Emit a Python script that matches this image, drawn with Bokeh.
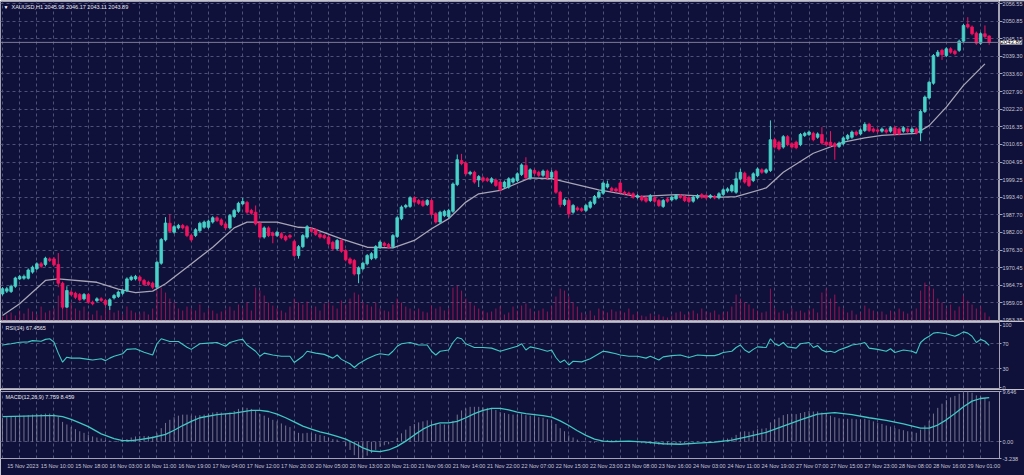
from bokeh.plotting import figure
from bokeh.models import Range1d, FixedTicker, Label, Span, NumeralTickFormatter
from bokeh.layouts import column, row
from bokeh.embed import file_html
from bokeh.resources import INLINE

# ---------------- XAUUSD H1 candles ----------------
opens = [
    1962.0, 1962.9, 1962.8, 1964.5, 1966.9, 1967.1, 1967.1, 1969.1, 1970.2, 1971.8,
    1971.6, 1973.4, 1973.4, 1971.6, 1965.5, 1957.7, 1962.6, 1962.2, 1961.8, 1960.4,
    1961.8, 1959.3, 1959.8, 1960.4, 1959.9, 1958.2, 1960.7, 1961.2, 1962.2, 1963.1,
    1966.7, 1966.9, 1967.5, 1966.4, 1965.8, 1965.5, 1964.2, 1972.0, 1979.6, 1985.0,
    1982.1, 1983.5, 1984.3, 1983.9, 1981.0, 1981.0, 1982.6, 1983.7, 1983.7, 1985.4,
    1986.8, 1986.1, 1984.8, 1983.5, 1987.2, 1988.9, 1991.3, 1991.8, 1989.2, 1988.6,
    1985.0, 1980.5, 1983.5, 1981.8, 1981.0, 1981.6, 1980.7, 1981.0, 1979.1, 1974.5,
    1977.4, 1980.5, 1983.2, 1982.9, 1981.4, 1981.0, 1980.5, 1978.8, 1976.7, 1979.4,
    1976.1, 1973.4, 1972.9, 1968.5, 1970.2, 1971.8, 1973.5, 1973.7, 1977.2, 1978.5,
    1978.1, 1977.4, 1980.7, 1986.5, 1990.3, 1990.5, 1993.3, 1992.4, 1992.2, 1991.1,
    1992.4, 1988.1, 1985.4, 1987.5, 1987.2, 1988.9, 1997.6, 2005.4, 2004.6, 2001.1,
    2001.6, 1999.1, 1999.8, 1999.5, 1998.4, 1999.1, 1998.4, 1996.8, 1996.8, 1998.4,
    1998.9, 2000.9, 2003.8, 1999.8, 2002.2, 2001.6, 2000.6, 2002.0, 2000.0, 2001.9,
    1995.1, 1991.1, 1992.4, 1988.6, 1990.0, 1989.7, 1989.2, 1990.2, 1991.5, 1993.5,
    1994.8, 1996.8, 1996.4, 1996.2, 1998.1, 1995.1, 1994.8, 1994.6, 1993.5, 1993.7,
    1993.3, 1992.4, 1993.3, 1992.4, 1990.5, 1992.9, 1992.6, 1993.0, 1994.0, 1993.7,
    1993.3, 1992.2, 1993.3, 1994.3, 1994.0, 1993.5, 1993.7, 1993.3, 1994.4, 1995.5,
    1995.5, 1995.1, 1999.5, 2001.3, 2000.0, 1998.9, 2000.5, 2002.4, 2001.6, 2002.2,
    2012.2, 2011.4, 2009.8, 2013.2, 2010.9, 2011.4, 2010.6, 2013.6, 2013.9, 2014.3,
    2013.0, 2013.9, 2011.4, 2011.4, 2010.9, 2010.0, 2010.9, 2012.5, 2013.0, 2014.7,
    2014.1, 2015.2, 2017.2, 2015.7, 2015.4, 2015.0, 2015.4, 2015.0, 2016.1, 2015.7,
    2015.0, 2015.7, 2014.7, 2015.7, 2014.4, 2021.4, 2025.8, 2030.6, 2039.6, 2041.3,
    2039.6, 2041.8, 2041.0, 2041.3, 2044.3, 2049.7, 2048.9, 2046.9, 2043.6, 2046.7, 2045.98,
]
highs = [
    1964.2, 1964.3, 1965.0, 1967.6, 1968.2, 1968.3, 1970.3, 1971.2, 1972.3, 1972.4,
    1974.1, 1973.9, 1974.0, 1975.3, 1966.0, 1964.5, 1963.2, 1962.7, 1962.3, 1962.3,
    1962.3, 1959.8, 1960.9, 1960.9, 1960.4, 1960.6, 1962.0, 1963.1, 1963.6, 1967.4,
    1968.0, 1968.2, 1968.0, 1966.9, 1966.3, 1966.0, 1972.8, 1980.2, 1987.0, 1987.9,
    1984.4, 1984.8, 1984.8, 1984.4, 1981.5, 1983.4, 1985.5, 1985.9, 1986.2, 1987.3,
    1987.3, 1986.6, 1985.3, 1988.0, 1989.7, 1992.0, 1993.3, 1992.3, 1989.7, 1990.8,
    1985.5, 1984.0, 1984.0, 1982.3, 1982.6, 1982.1, 1981.2, 1981.5, 1979.6, 1977.9,
    1981.5, 1984.4, 1983.7, 1983.4, 1981.9, 1981.5, 1981.0, 1979.3, 1979.9, 1979.9,
    1976.6, 1973.9, 1973.4, 1971.0, 1972.5, 1975.0, 1975.6, 1977.9, 1979.4, 1979.0,
    1978.6, 1981.5, 1987.3, 1990.8, 1991.3, 1993.8, 1993.8, 1992.9, 1992.7, 1992.9,
    1992.9, 1988.6, 1989.1, 1989.4, 1989.7, 1998.3, 2007.4, 2007.6, 2005.1, 2002.1,
    2002.1, 2000.7, 2000.3, 2000.0, 2000.0, 1999.6, 1998.9, 1998.9, 2000.0, 2000.0,
    2001.6, 2004.5, 2006.5, 2002.9, 2002.7, 2002.1, 2002.5, 2002.5, 2002.3, 2002.4,
    1995.6, 1993.1, 1992.9, 1991.3, 1990.5, 1990.2, 1991.3, 1992.4, 1994.2, 1995.6,
    1998.6, 1998.9, 1996.9, 1996.7, 1998.6, 1995.6, 1995.3, 1995.1, 1994.5, 1994.2,
    1993.8, 1994.5, 1993.8, 1992.9, 1992.9, 1993.4, 1994.0, 1994.5, 1994.5, 1994.2,
    1993.8, 1994.0, 1994.5, 1994.8, 1994.5, 1994.5, 1994.2, 1995.1, 1996.4, 1996.7,
    1997.8, 2001.6, 2002.7, 2001.8, 2000.5, 2001.6, 2003.2, 2002.9, 2002.9, 2018.5,
    2012.7, 2011.9, 2013.7, 2013.7, 2011.4, 2011.9, 2014.4, 2014.8, 2015.2, 2014.8,
    2014.6, 2016.3, 2011.9, 2015.0, 2011.4, 2011.6, 2013.3, 2014.1, 2015.2, 2015.2,
    2015.9, 2017.9, 2017.7, 2016.2, 2015.9, 2016.2, 2015.9, 2016.6, 2016.6, 2016.2,
    2016.6, 2016.2, 2016.2, 2016.2, 2021.9, 2026.6, 2031.4, 2040.1, 2041.4, 2041.8,
    2042.3, 2042.3, 2041.5, 2044.8, 2049.9, 2052.1, 2049.4, 2047.4, 2047.2, 2049.4, 2046.17,
]
lows = [
    1961.5, 1962.3, 1962.3, 1964.0, 1966.5, 1966.6, 1966.7, 1968.6, 1969.8, 1970.5,
    1971.0, 1972.4, 1971.0, 1964.2, 1957.1, 1957.5, 1961.3, 1960.3, 1959.6, 1959.9,
    1958.8, 1958.3, 1959.3, 1959.4, 1958.0, 1956.8, 1960.2, 1960.7, 1961.7, 1962.6,
    1966.2, 1966.4, 1965.9, 1964.6, 1964.6, 1963.6, 1963.8, 1971.5, 1979.1, 1981.9,
    1981.6, 1983.0, 1983.0, 1980.5, 1979.1, 1980.5, 1982.1, 1983.2, 1983.2, 1984.9,
    1985.4, 1984.1, 1983.0, 1983.0, 1986.7, 1988.4, 1991.0, 1988.1, 1987.8, 1984.3,
    1980.0, 1980.0, 1980.5, 1978.5, 1980.5, 1979.8, 1979.1, 1980.0, 1974.0, 1973.5,
    1976.9, 1980.0, 1981.9, 1980.9, 1980.0, 1979.8, 1977.8, 1976.2, 1976.2, 1975.4,
    1972.6, 1971.5, 1968.0, 1965.5, 1969.7, 1971.3, 1973.0, 1973.2, 1976.7, 1977.3,
    1976.7, 1976.9, 1980.2, 1986.0, 1989.8, 1990.0, 1991.4, 1991.0, 1990.3, 1990.6,
    1987.4, 1984.9, 1984.9, 1987.0, 1986.7, 1988.4, 1997.1, 2003.9, 2000.6, 2000.6,
    1997.9, 1996.8, 1998.4, 1998.4, 1997.9, 1996.8, 1995.4, 1996.3, 1996.3, 1997.9,
    1998.4, 2000.4, 1999.3, 1999.3, 2000.8, 2000.1, 2000.1, 1999.3, 1999.5, 1994.6,
    1990.2, 1990.6, 1987.0, 1988.1, 1988.9, 1988.7, 1988.7, 1989.7, 1991.0, 1993.0,
    1994.3, 1996.3, 1995.2, 1995.0, 1994.6, 1994.1, 1993.9, 1993.0, 1993.0, 1992.1,
    1991.7, 1991.9, 1991.7, 1990.3, 1990.0, 1991.7, 1992.1, 1992.5, 1993.0, 1991.9,
    1991.6, 1991.7, 1992.8, 1993.0, 1992.8, 1993.0, 1992.8, 1992.8, 1993.9, 1995.0,
    1995.0, 1994.6, 1999.0, 1997.9, 1996.8, 1998.4, 2000.0, 2001.1, 2001.1, 2001.7,
    2009.3, 2008.7, 2009.3, 2010.1, 2009.3, 2009.1, 2010.1, 2013.1, 2013.4, 2011.7,
    2012.5, 2010.6, 2010.1, 2009.8, 2005.7, 2009.5, 2010.4, 2012.0, 2012.5, 2013.4,
    2013.6, 2014.7, 2014.7, 2014.5, 2014.5, 2014.5, 2014.2, 2014.5, 2013.6, 2013.6,
    2014.5, 2014.4, 2014.2, 2013.9, 2011.7, 2020.9, 2025.3, 2030.1, 2039.1, 2038.2,
    2039.1, 2040.2, 2039.7, 2040.8, 2043.8, 2048.4, 2046.2, 2043.1, 2043.1, 2045.3, 2043.11,
]
closes = [
    1963.7, 1963.7, 1964.5, 1967.2, 1967.7, 1967.7, 1969.8, 1970.7, 1971.8, 1971.0,
    1973.6, 1972.9, 1971.5, 1965.5, 1957.7, 1963.1, 1961.8, 1960.9, 1960.1, 1961.8,
    1959.3, 1958.8, 1960.4, 1959.9, 1958.6, 1960.1, 1961.5, 1962.6, 1963.1, 1966.9,
    1967.5, 1967.7, 1966.4, 1965.1, 1965.1, 1964.2, 1972.3, 1979.7, 1985.1, 1982.4,
    1983.9, 1984.3, 1983.5, 1981.0, 1979.6, 1982.9, 1985.0, 1985.4, 1985.7, 1986.8,
    1985.9, 1984.6, 1983.5, 1987.5, 1989.2, 1991.5, 1992.1, 1988.6, 1988.3, 1984.8,
    1980.5, 1983.5, 1981.0, 1981.0, 1982.1, 1980.3, 1979.6, 1980.5, 1974.5, 1977.4,
    1981.0, 1983.9, 1982.4, 1981.4, 1980.5, 1980.3, 1978.3, 1976.7, 1979.4, 1975.9,
    1973.1, 1972.0, 1968.5, 1970.5, 1972.0, 1974.5, 1975.1, 1977.4, 1978.9, 1977.8,
    1977.2, 1981.0, 1986.8, 1990.3, 1990.8, 1993.3, 1991.9, 1991.5, 1990.8, 1992.4,
    1987.9, 1985.4, 1988.6, 1988.9, 1989.2, 1997.8, 2005.7, 2004.4, 2001.1, 2001.6,
    1998.4, 2000.2, 1998.9, 1998.9, 1999.5, 1997.3, 1995.9, 1998.4, 1999.5, 1999.5,
    2001.1, 2004.0, 1999.8, 2002.4, 2001.3, 2000.6, 2002.0, 1999.8, 2001.6, 1995.1,
    1991.1, 1992.6, 1988.1, 1990.8, 1989.4, 1989.2, 1990.8, 1991.9, 1993.7, 1995.1,
    1998.1, 1997.8, 1995.7, 1995.5, 1995.1, 1994.6, 1994.4, 1993.5, 1994.0, 1992.6,
    1992.2, 1994.0, 1992.2, 1990.8, 1992.4, 1992.2, 1993.5, 1994.0, 1993.5, 1992.4,
    1992.1, 1993.5, 1994.0, 1993.5, 1993.3, 1994.0, 1993.3, 1994.6, 1995.9, 1996.2,
    1997.3, 1999.5, 2001.6, 1998.4, 1997.3, 2001.1, 2002.7, 2001.6, 2002.4, 2012.2,
    2009.8, 2009.2, 2013.2, 2010.6, 2009.8, 2009.6, 2013.9, 2014.3, 2014.7, 2012.2,
    2014.1, 2011.1, 2010.6, 2010.3, 2010.0, 2011.1, 2012.8, 2013.6, 2014.7, 2013.9,
    2015.4, 2017.2, 2015.2, 2015.0, 2015.0, 2015.7, 2014.7, 2016.1, 2014.1, 2014.1,
    2016.1, 2014.9, 2015.7, 2014.4, 2021.4, 2026.1, 2030.9, 2039.6, 2040.7, 2039.9,
    2041.8, 2040.7, 2040.2, 2044.3, 2049.4, 2048.9, 2046.7, 2043.6, 2046.7, 2045.8, 2043.89,
]
tick_volume = [
    1000, 1500, 2000, 1250, 2500, 1750, 3000, 2250, 1500, 3500,
    2000, 2500, 3000, 6250, 9250, 7500, 4500, 3000, 2500, 3500,
    2000, 1500, 2500, 1250, 3000, 3500, 2000, 2500, 1500, 3500,
    2500, 2000, 1750, 2250, 1500, 3000, 7500, 8250, 7000, 5500,
    4500, 3000, 2500, 3500, 3000, 2500, 4000, 2000, 3000, 2500,
    1750, 2250, 2750, 3500, 2500, 4000, 3000, 4500, 2500, 8250,
    7500, 6250, 4500, 3750, 3000, 2500, 2000, 3500, 5500, 4500,
    4000, 4750, 3000, 3500, 2500, 4250, 4500, 3750, 3000, 5000,
    4000, 5500, 7000, 6500, 4500, 4000, 3500, 4500, 3000, 2500,
    2250, 4000, 5500, 4500, 3500, 3000, 2500, 3000, 2250, 2000,
    3750, 3000, 3500, 2500, 3000, 8250, 8750, 7500, 5500, 4500,
    3750, 3000, 2500, 2000, 2250, 3000, 3500, 1500, 2000, 3500,
    2500, 3750, 4250, 3000, 2000, 2500, 3000, 2250, 3500, 6000,
    8000, 7500, 6000, 4500, 3500, 2000, 1500, 2500, 1250, 3000,
    2500, 2000, 2750, 2250, 2500, 2000, 3000, 1500, 2000, 1250,
    1000, 1750, 1250, 1500, 1000, 750, 1250, 2000, 2250, 1500,
    2000, 2500, 1750, 3000, 2250, 2000, 2500, 1500, 2000, 2250,
    3500, 6500, 5500, 4500, 4000, 3000, 2500, 2000, 2250, 8000,
    3000, 2000, 2500, 1750, 3000, 2250, 2500, 2000, 2750, 3000,
    2000, 7000, 8000, 5500, 6500, 3500, 3000, 2000, 2500, 1500,
    2000, 3750, 3000, 2500, 2000, 2250, 1500, 2500, 2000, 3000,
    2250, 1750, 2500, 3000, 7500, 9500, 8750, 8000, 5500, 4500,
    3000, 4000, 2500, 3500, 6250, 5000, 4000, 3000, 3500, 2000, 1000,
]

# moving average (read at selected bars)
ma_bar = [0, 4, 10, 13, 22, 27, 31, 35, 38, 43, 49, 54, 57, 64, 69, 72, 79, 85, 91, 96,
          100, 104, 108, 111, 116, 123, 128, 139, 148, 157, 168, 171, 178, 182, 189, 196,
          201, 205, 213, 216, 220, 224, 229]
ma_val = [1955.0, 1958.8, 1966.4, 1966.9, 1965.8, 1963.6, 1962.4, 1962.9, 1965.3, 1970.7,
          1977.2, 1983.5, 1985.4, 1985.4, 1983.7, 1983.5, 1979.9, 1977.2, 1977.0, 1979.4,
          1983.2, 1986.5, 1991.9, 1994.6, 1995.7, 1999.8, 1999.5, 1995.9, 1993.7, 1994.3,
          1993.5, 1993.7, 1996.5, 2001.6, 2007.8, 2011.4, 2012.8, 2013.6, 2014.3, 2016.8,
          2022.8, 2029.9, 2036.9]

# RSI(14)
rsi_bar = [
    0, 2, 4, 6, 7, 9, 10, 11, 12, 13,
    14, 15, 16, 18, 20, 21, 23, 24, 25, 26,
    28, 29, 31, 33, 35, 36, 37, 39, 41, 43,
    44, 46, 48, 50, 52, 53, 55, 56, 57, 59,
    60, 61, 63, 65, 67, 68, 70, 71, 73, 75,
    77, 78, 79, 81, 82, 83, 85, 87, 88, 90,
    91, 92, 93, 95, 97, 99, 100, 101, 102, 104,
    105, 106, 107, 108, 110, 112, 114, 116, 118, 120,
    121, 122, 123, 125, 127, 128, 129, 130, 131, 132,
    133, 135, 137, 138, 140, 141, 143, 144, 146, 148,
    150, 151, 153, 154, 156, 158, 160, 162, 164, 166,
    167, 168, 170, 171, 172, 173, 174, 175, 176, 178,
    179, 180, 181, 182, 183, 185, 186, 188, 189, 190,
    191, 192, 193, 194, 195, 197, 198, 200, 201, 202,
    204, 206, 207, 208, 210, 212, 213, 214, 215, 216,
    217, 218, 220, 221, 222, 223, 224, 225, 226, 227,
    228, 229, 230]
rsi_val = [
    68, 70, 72.5, 73, 75, 74, 77, 78, 72.5, 55,
    40.5, 48.5, 47, 47, 45, 44, 46, 43, 47, 50,
    54, 61, 62, 56.5, 52, 70, 78, 73.6, 73.6, 64.5,
    61, 70, 71, 72, 66, 72, 76, 77, 68, 58,
    50, 55, 52, 50, 50, 40, 50, 58, 55, 53,
    47, 52, 45, 38, 32, 38, 46, 52, 54, 52,
    58, 66, 70, 72, 68, 68, 58, 52, 58, 60,
    72, 80, 78, 70, 64, 64, 63, 58, 62, 66,
    70, 60, 65, 62, 58, 60, 48, 40, 44, 36,
    42, 41, 46, 50, 58, 57, 54, 52, 50, 50,
    47, 50, 44, 49, 51, 52, 48, 52, 51, 51,
    53, 56, 58, 64, 68, 60, 56, 61, 65, 64,
    78, 70, 67, 72, 65, 63, 70, 72, 64, 67,
    60, 57, 58, 56, 60, 65, 68, 70, 72, 63,
    61, 58, 62, 56, 60, 58, 55, 72, 78, 82,
    87, 88, 86, 84, 82, 85, 89, 87, 82, 72,
    77, 74, 67.4565]

# MACD(12,26,9): main per bar, signal at selected bars
macd_main = [
    4.6, 4.7, 4.8, 4.9, 5.0, 5.0, 5.1, 5.2, 5.3, 5.3,
    5.4, 5.4, 5.3, 4.8, 3.8, 3.3, 2.8, 2.4, 2.0, 1.7,
    1.3, 1.0, 0.8, 0.6, 0.3, 0.2, 0.1, 0.1, 0.2, 0.5,
    0.8, 1.0, 1.1, 1.1, 1.1, 1.0, 1.6, 2.6, 3.6, 4.2,
    4.7, 5.0, 5.2, 5.2, 5.0, 5.0, 5.1, 5.2, 5.4, 5.6,
    5.7, 5.6, 5.4, 5.6, 5.9, 6.3, 6.6, 6.5, 6.3, 5.9,
    5.3, 5.0, 4.6, 4.2, 3.9, 3.5, 3.1, 2.8, 2.1, 1.7,
    1.6, 1.7, 1.6, 1.5, 1.3, 1.1, 0.8, 0.5, 0.4, 0.0,
    -0.8, -1.6, -2.6, -3.238, -3.1, -2.7, -2.2, -1.6, -1.0, -0.7,
    -0.5, -0.1, 0.7, 1.6, 2.3, 3.0, 3.4, 3.7, 3.9, 4.1,
    3.9, 3.5, 3.4, 3.3, 3.3, 4.0, 5.2, 6.0, 6.4, 6.7,
    6.7, 6.7, 6.6, 6.5, 6.4, 6.1, 5.7, 5.5, 5.3, 5.2,
    5.2, 5.4, 5.1, 5.0, 4.9, 4.7, 4.6, 4.3, 4.1, 3.4,
    2.6, 2.0, 1.2, 0.8, 0.4, 0.1, -0.1, -0.2, -0.2, -0.1,
    0.2, 0.3, 0.3, 0.3, 0.2, 0.1, 0.0, -0.1, -0.2, -0.3,
    -0.4, -0.4, -0.5, -0.6, -0.6, -0.6, -0.5, -0.4, -0.3, -0.3,
    -0.3, -0.2, -0.1, 0.0, 0.0, 0.1, 0.1, 0.2, 0.4, 0.6,
    0.8, 1.3, 1.8, 2.0, 1.9, 2.1, 2.4, 2.5, 2.6, 3.7,
    4.3, 4.6, 5.1, 5.3, 5.3, 5.3, 5.5, 5.7, 5.9, 5.8,
    5.8, 5.6, 5.3, 5.0, 4.7, 4.5, 4.4, 4.4, 4.4, 4.3,
    4.3, 4.4, 4.2, 3.9, 3.6, 3.4, 3.1, 2.9, 2.6, 2.4,
    2.2, 2.0, 1.9, 1.7, 2.3, 3.1, 4.0, 5.4, 6.5, 7.3,
    8.0, 8.5, 8.8, 9.2, 9.5, 9.646, 9.4, 8.9, 8.7, 8.4, 7.759]
signal_bar = [
    0, 5, 10, 12, 14, 16, 18, 20, 23, 26,
    28, 30, 32, 35, 38, 40, 42, 44, 46, 50,
    54, 58, 60, 62, 64, 66, 68, 70, 72, 74,
    76, 78, 80, 82, 84, 86, 88, 90, 92, 94,
    96, 98, 100, 102, 104, 106, 108, 110, 112, 114,
    116, 118, 120, 122, 124, 126, 128, 130, 132, 134,
    136, 138, 140, 142, 146, 150, 154, 158, 162, 166,
    170, 174, 178, 182, 186, 190, 194, 198, 202, 206,
    210, 214, 216, 218, 220, 222, 224, 226, 228, 230]
signal_val = [
    4.8, 4.9, 5.0, 5.0, 4.8, 4.3, 3.6, 2.9, 1.5, 0.6,
    0.2, 0.2, 0.4, 0.8, 1.4, 2.2, 3.1, 3.9, 4.6, 5.2,
    5.5, 6.0, 6.0, 5.8, 5.3, 4.6, 3.8, 3.0, 2.4, 1.9,
    1.5, 1.0, 0.5, -0.3, -1.2, -1.8, -1.9, -1.6, -0.9, 0.1,
    1.3, 2.4, 3.2, 3.6, 3.6, 3.9, 4.6, 5.4, 6.0, 6.4,
    6.4, 6.1, 5.7, 5.4, 5.2, 5.0, 4.7, 4.0, 3.1, 2.1,
    1.2, 0.5, 0.1, 0.0, 0.1, -0.1, -0.4, -0.5, -0.3, -0.1,
    0.3, 1.0, 1.8, 3.0, 4.2, 5.3, 5.6, 5.2, 4.6, 4.1,
    3.4, 2.6, 2.6, 3.2, 4.2, 5.4, 6.7, 7.8, 8.3, 8.459]

# axis labels
time_ticks = list(range(0, 225, 8))
time_labels = ["15 Nov 2023", "15 Nov 10:00", "15 Nov 18:00", "16 Nov 03:00", "16 Nov 11:00",
               "16 Nov 19:00", "17 Nov 04:00", "17 Nov 12:00", "17 Nov 20:00", "20 Nov 05:00",
               "20 Nov 13:00", "20 Nov 21:00", "21 Nov 06:00", "21 Nov 14:00", "21 Nov 22:00",
               "22 Nov 07:00", "22 Nov 15:00", "22 Nov 23:00", "23 Nov 08:00", "23 Nov 16:00",
               "24 Nov 03:00", "24 Nov 11:00", "24 Nov 19:00", "27 Nov 07:00", "27 Nov 15:00",
               "27 Nov 23:00", "28 Nov 08:00", "28 Nov 16:00", "29 Nov 01:00"]
price_ticks = [2056.55, 2050.85, 2045.15, 2039.30, 2033.60, 2027.90, 2022.20, 2016.35,
               2010.65, 2004.95, 1999.25, 1993.40, 1987.70, 1982.00, 1976.30, 1970.45,
               1964.75, 1959.05, 1953.35]
rsi_ticks = [100, 70, 30, 0]
rsi_levels = [70, 30]
macd_ticks = [9.646, 0.0, -3.238]
macd_tick_labels = ["9.646", "0.00", "-3.238"]
last_price = 2043.89

# ---------------- styling ----------------
BG = "#10113b"
GRID = "#4f5078"
FRAME = "#a3a3b4"
TXT = "#c6c6d2"
BULL = "#48d2c8"
BEAR = "#f2135f"
VOL = "#b0145a"
MA_COLOR = "#a6a6b6"
IND = "#3fc8c4"
FONT = "Liberation Sans"
FS = "5.5px"

FRAME_W = 999
SCALE_W = 25
BAR_PX = 4.29
X_END = -0.47 + FRAME_W / BAR_PX
x_range = Range1d(-0.47, X_END)
vgrid_ticks = list(range(0, 232, 4))
# time labels start just right of their bar, so the label centre sits ~4.75 bars later
label_shift = 4.75


def style_grids(p, xticks, yticks):
    for g in p.grid:
        g.grid_line_color = GRID
        g.grid_line_dash = "3 3"
        g.grid_line_width = 1
    p.xgrid.ticker = FixedTicker(ticks=xticks)
    p.ygrid.ticker = FixedTicker(ticks=yticks)


def style_scale(ax, tick_in=0, tick_out=2, standoff=1):
    ax.axis_line_color = FRAME
    ax.major_tick_line_color = FRAME
    ax.major_tick_out = tick_out
    ax.major_tick_in = tick_in
    ax.minor_tick_line_color = None
    ax.major_label_standoff = standoff
    ax.major_label_text_color = TXT
    ax.major_label_text_font = FONT
    ax.major_label_text_font_size = FS


def make_panel(frame_h, top, bottom, y_range, xaxis=False):
    p = figure(frame_width=FRAME_W, frame_height=frame_h, x_range=x_range, y_range=y_range,
               output_backend="svg", toolbar_location=None,
               x_axis_location="below" if xaxis else None, y_axis_location="right",
               min_border_left=0, min_border_right=SCALE_W, min_border_top=top,
               min_border_bottom=bottom, background_fill_color=BG, border_fill_color=BG,
               outline_line_color=FRAME, outline_line_width=1)
    style_scale(p.yaxis[0])
    return p


def corner_text(p, text, frame_h, dx=5, dy=5, size=FS, color="#e6e6ee"):
    p.add_layout(Label(x=dx, y=frame_h - dy, x_units="screen", y_units="screen", text=text,
                       text_font=FONT, text_font_size=size, text_color=color,
                       text_baseline="middle", text_align="left"))


idx = list(range(len(closes)))
is_up = [c >= o for o, c in zip(opens, closes)]
colors = [BULL if u else BEAR for u in is_up]
body_top = [max(o, c) for o, c in zip(opens, closes)]
body_bot = [min(o, c) for o, c in zip(opens, closes)]

# ---------------- price panel: chart area + price scale strip ----------------
MAIN_H = 319
price_range = Range1d(1953.35, 1953.35 + MAIN_H / 3.0717)

p1 = figure(frame_width=FRAME_W, frame_height=MAIN_H, x_range=x_range, y_range=price_range,
            output_backend="svg", toolbar_location=None, x_axis_location=None,
            y_axis_location=None, min_border_left=0, min_border_right=0, min_border_top=1,
            min_border_bottom=1, background_fill_color=BG, border_fill_color=BG,
            outline_line_color=FRAME, outline_line_width=1)
style_grids(p1, vgrid_ticks, price_ticks)

p1.extra_y_ranges = {"vol": Range1d(0, 80000)}
p1.segment(x0=idx, y0=[0] * len(idx), x1=idx, y1=tick_volume, y_range_name="vol",
           line_color=VOL, line_alpha=0.85, line_width=1)

p1.add_layout(Span(location=last_price, dimension="width", line_color="#7c7c96", line_width=1))

p1.line(ma_bar, ma_val, line_color=MA_COLOR, line_width=1.3)

p1.segment(x0=idx, y0=lows, x1=idx, y1=highs, line_color=colors, line_width=1)
p1.vbar(x=idx, width=0.62, top=body_top, bottom=body_bot, fill_color=colors,
        line_color=colors, line_width=0.8)

corner_text(p1, "\u25bc", MAIN_H, dx=3, dy=5, size="5px", color="#ffffff")
corner_text(p1, "XAUUSD,H1  2045.98 2046.17 2043.11 2043.89", MAIN_H, dx=11, dy=5)

# price scale strip: labels sit to the right of the scale line, the bid tag on top of them
ps = figure(frame_width=SCALE_W, frame_height=MAIN_H, x_range=Range1d(0, SCALE_W),
            y_range=price_range, output_backend="svg", toolbar_location=None,
            x_axis_location=None, y_axis_location="left", min_border_left=0,
            min_border_right=0, min_border_top=1, min_border_bottom=1,
            background_fill_color=BG, border_fill_color=BG, outline_line_color=None)
for g in ps.grid:
    g.visible = False
pax = ps.yaxis[0]
style_scale(pax, tick_in=3, tick_out=0, standoff=-(SCALE_W - 2))
pax.ticker = FixedTicker(ticks=price_ticks)
pax.formatter = NumeralTickFormatter(format="0.00")
ps.add_layout(Label(x=1, y=last_price, text="2043.89", text_font=FONT, text_font_size="6px",
                    text_color="#000000", text_baseline="middle", text_align="left",
                    background_fill_color="#ffffff", background_fill_alpha=1.0))

# ---------------- RSI panel ----------------
RSI_H = 66
p2 = make_panel(RSI_H, 1, 1, Range1d(-1.6, -1.6 + RSI_H / 0.625))
style_grids(p2, vgrid_ticks, rsi_levels)
p2.yaxis[0].ticker = FixedTicker(ticks=rsi_ticks)
p2.line(rsi_bar, rsi_val, line_color=IND, line_width=1.1)
corner_text(p2, "RSI(14) 67.4565", RSI_H, dx=5, dy=5)

# ---------------- MACD panel ----------------
MACD_H = 67
p3 = make_panel(MACD_H, 2, 17, Range1d(-3.238, 9.646), xaxis=True)
style_grids(p3, vgrid_ticks, [0.0])
p3.yaxis[0].ticker = FixedTicker(ticks=macd_ticks)
p3.yaxis[0].major_label_overrides = {t: s for t, s in zip(macd_ticks, macd_tick_labels)}
p3.segment(x0=idx, y0=[0] * len(idx), x1=idx, y1=macd_main, line_color="#8c8ca2",
           line_alpha=0.8, line_width=1)
p3.line(signal_bar, signal_val, line_color=IND, line_width=1.3)
corner_text(p3, "MACD(12,26,9) 7.759 8.459", MACD_H, dx=5, dy=5)

label_pos = [t + label_shift for t in time_ticks]
xa = p3.xaxis[0]
style_scale(xa, tick_in=0, tick_out=0, standoff=4)
xa.major_tick_line_color = None
xa.ticker = FixedTicker(ticks=label_pos)
xa.major_label_overrides = {t: s for t, s in zip(label_pos, time_labels)}

layout = column(row(p1, ps, spacing=0), p2, p3, spacing=0)
open("out.html", "w").write(file_html(layout, INLINE))
